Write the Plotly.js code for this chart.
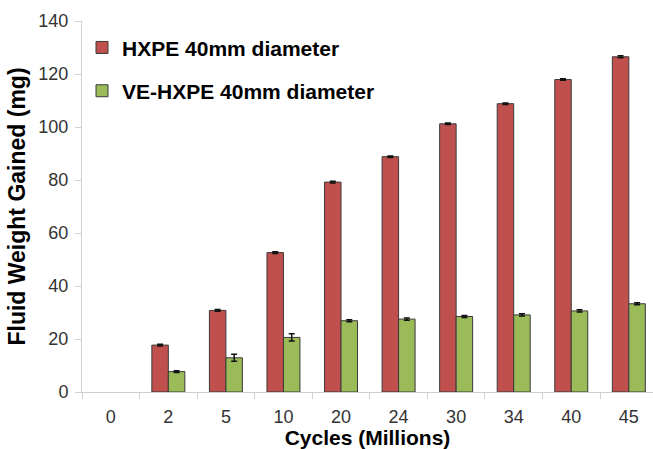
<!DOCTYPE html>
<html>
<head>
<meta charset="utf-8">
<script src="https://cdn.plot.ly/plotly-3.0.1.min.js"></script>
<style>html,body{margin:0;padding:0;background:#fff;overflow:hidden}#chart{width:653px;height:449px}</style>
</head>
<body>
<div id="chart"></div>
<script>
const categories = ["0", "2", "5", "10", "20", "24", "30", "34", "40", "45"];
const hxpeValues = [null, 17.7, 30.8, 52.6, 79.2, 88.8, 101.2, 108.8, 117.9, 126.5];
const hxpeErrors = [0, 0.3, 0.3, 0.3, 0.3, 0.3, 0.3, 0.3, 0.3, 0.4];
const veValues = [null, 7.7, 12.9, 20.6, 26.9, 27.5, 28.5, 29.1, 30.6, 33.3];
const veErrors = [0, 0.3, 1.3, 1.4, 0.4, 0.4, 0.4, 0.4, 0.4, 0.4];
const seriesNames = ["HXPE 40mm diameter", "VE-HXPE 40mm diameter"];
const yTicks = [0, 20, 40, 60, 80, 100, 120, 140];

const font = "Liberation Sans, Arial, sans-serif";
const errStyle = (arr) => ({type: "data", array: arr, visible: true, color: "#111", thickness: 1.5, width: 3});

const traces = [
  {type: "bar", name: seriesNames[0], x: categories, y: hxpeValues, error_y: errStyle(hxpeErrors),
   marker: {color: "#C0504D", line: {color: "#3a3a3a", width: 1}}, legendgroup: "a"},
  {type: "bar", name: seriesNames[1], x: categories, y: veValues, error_y: errStyle(veErrors),
   marker: {color: "#9BBB59", line: {color: "#3a3a3a", width: 1}}, legendgroup: "b"}
];

const layout = {
  width: 653, height: 449,
  margin: {l: 82, r: 0, t: 21, b: 57},
  paper_bgcolor: "#fff", plot_bgcolor: "#fff",
  barmode: "group", bargap: 0.427, bargroupgap: 0,
  font: {family: font, size: 18, color: "#333"},
  showlegend: true,
  legend: {x: 0.0, y: 0.983, xanchor: "left", yanchor: "top", bgcolor: "rgba(0,0,0,0)",
           font: {family: font, size: 21, color: "#000", weight: "bold"},
           traceorder: "grouped", tracegroupgap: 13},
  xaxis: {type: "category", range: [-0.5, 9.42], tickson: "boundaries", ticks: "outside", ticklen: 6,
          tickcolor: "#d0d0d0", showline: true, linecolor: "#d0d0d0", linewidth: 1, showgrid: false,
          zeroline: false, ticklabelstandoff: 8, tickfont: {family: font, size: 18, color: "#333"},
          title: {text: "Cycles (Millions)", standoff: 0, font: {family: font, size: 21, color: "#000", weight: "bold"}}},
  yaxis: {range: [0, 140], tickvals: yTicks, ticks: "outside", ticklen: 6, tickcolor: "#d0d0d0",
          showline: true, linecolor: "#d0d0d0", linewidth: 1, showgrid: false, zeroline: false,
          ticklabelstandoff: 3, tickfont: {family: font, size: 18, color: "#333"},
          title: {text: "Fluid Weight Gained (mg)", standoff: 6, font: {family: font, size: 23, color: "#000", weight: "bold"}}}
};

Plotly.newPlot("chart", traces, layout, {displayModeBar: false, staticPlot: true});
</script>
</body>
</html>
